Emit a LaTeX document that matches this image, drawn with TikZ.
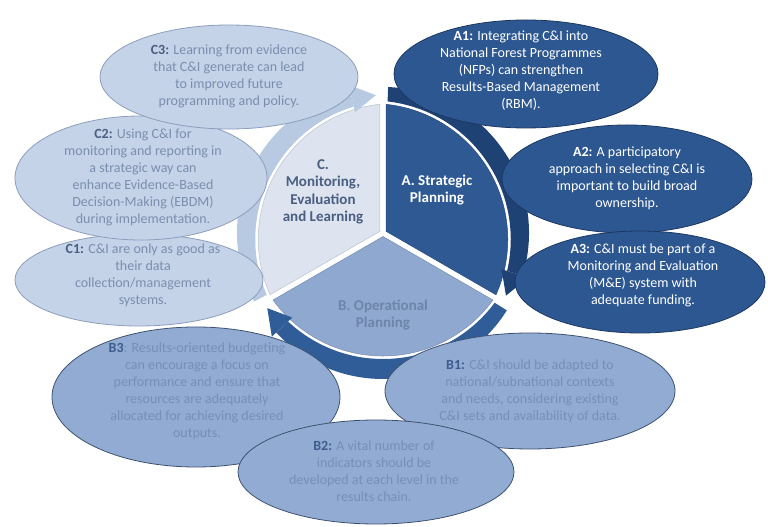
\documentclass[tikz,border=0pt]{standalone}
\usepackage{fontspec}
\setmainfont{Carlito}
\usepackage{xcolor}
\usepackage{tikz}
\usetikzlibrary{shapes}
\definecolor{segA}{RGB}{46,89,146}
\definecolor{bandA}{RGB}{30,66,116}
\definecolor{ovalA}{RGB}{45,87,144}
\definecolor{lineA}{RGB}{28,56,98}
\definecolor{segB}{RGB}{143,168,208}
\definecolor{bandB}{RGB}{48,93,152}
\definecolor{ovalB}{RGB}{146,171,211}
\definecolor{lineB}{RGB}{62,82,112}
\definecolor{txtB}{RGB}{118,143,184}
\definecolor{lblB}{RGB}{62,92,142}
\definecolor{segC}{RGB}{221,228,240}
\definecolor{bandC}{RGB}{184,201,226}
\definecolor{ovalC}{RGB}{197,211,232}
\definecolor{lineC}{RGB}{140,158,188}
\definecolor{txtC}{RGB}{122,142,174}
\definecolor{lblC}{RGB}{74,94,130}

\begin{document}
\begin{tikzpicture}[x=1pt,y=1pt,
oval/.style={ellipse,line width=0.8pt,inner sep=0pt},
aoval/.style={oval,fill=ovalA,draw=lineA},
boval/.style={oval,fill=ovalB,draw=lineB},
coval/.style={oval,fill=ovalC,draw=lineC},
txt/.style={align=center,inner sep=0pt,font=\fontsize{14}{17}\selectfont},
seg/.style={txt,font=\fontsize{15}{17.5}\selectfont\bfseries},
atxt/.style={txt,text=white},
btxt/.style={txt,text=txtB},
ctxt/.style={txt,text=txtC}]
\useasboundingbox (0,0) rectangle (768,527);
\fill[white] (0,0) rectangle (768,527);
% the three segments of the cycle
\foreach \rot/\wc/\bc in {120/segA/bandA,0/segB/bandB,240/segC/bandC}{
\begin{scope}[shift={(383,294)},rotate=\rot]
\filldraw[fill=\wc,draw=\wc!85!black,line width=0.5pt](0,-3.5)--(109.9,-67) arc[start angle=-36,end angle=-144,radius=135.9]--cycle;
\begin{scope}
\clip(0,0)--(-32:220) arc[start angle=-32,end angle=-137,radius=220]--cycle;
\fill[\bc,even odd rule](0,0) circle[radius=146] (0,12.9) circle[radius=138.9];
\end{scope}
\fill[\bc](-137:124)--(-137:152)--(-147:138)--cycle;
\end{scope}}
\node[seg,text=white](sa) at (437,337){A. Strategic\\Planning};
\node[seg,text=lblB!75!white](sb) at (383,212){B. Operational\\Planning};
\node[seg,text=lblC](sc) at (323,335){C.\\Monitoring,\\Evaluation\\and Learning};
% A ellipses
\node[aoval,minimum width=264,minimum height=108](a1) at (526,453){};
\node[atxt](a1t) at (521,456){\textbf{A1:} Integrating C\&I into\\National Forest Programmes\\(NFPs) can strengthen\\Results-Based Management\\(RBM).};
\node[aoval,minimum width=250,minimum height=108](a2) at (627,348){};
\node[atxt](a2t) at (627,349){\textbf{A2:} A participatory\\approach in selecting C\&I is\\important to build broad\\ownership.};
\node[aoval,minimum width=250,minimum height=102](a3) at (640,245){};
\node[atxt](a3t) at (643,252){\textbf{A3:} C\&I must be part of a\\Monitoring and Evaluation\\(M\&E) system with\\adequate funding.};
% B ellipses
\node[boval,minimum width=288,minimum height=140](b3) at (196,130){};
\node[btxt](b3t) at (197,136){{\color{lblB}\textbf{B3}}: Results-oriented budgeting\\can encourage a focus on\\performance and ensure that\\resources are adequately\\allocated for achieving desired\\outputs.};
\node[boval,minimum width=290,minimum height=116](b1) at (530,136){};
\node[btxt](b1t) at (530,136){{\color{lblB}\textbf{B1:}} C\&I should be adapted to\\national/subnational contexts\\and needs, considering existing\\C\&I sets and availability of data.};
\node[boval,minimum width=276,minimum height=104](b2) at (376,55){};
\node[btxt](b2t) at (374,56){{\color{lblB}\textbf{B2:}} A vital number of\\indicators should be\\developed at each level in the\\results chain.};
% C ellipses
\node[coval,minimum width=248,minimum height=92](c1) at (139,247){};
\node[ctxt](c1t) at (143,252){{\color{lblC}\textbf{C1:}} C\&I are only as good as\\their data\\collection/management\\systems.};
\node[coval,minimum width=252,minimum height=124](c2) at (141,349){};
\node[ctxt](c2t) at (143,350){{\color{lblC}\textbf{C2:}} Using C\&I for\\monitoring and reporting in\\a strategic way can\\enhance Evidence-Based\\Decision-Making (EBDM)\\during implementation.};
\node[coval,minimum width=258,minimum height=104](c3) at (229,450){};
\node[ctxt](c3t) at (229,451){{\color{lblC}\textbf{C3:}} Learning from evidence\\that C\&I generate can lead\\to improved future\\programming and policy.};
\end{tikzpicture}
\end{document}
